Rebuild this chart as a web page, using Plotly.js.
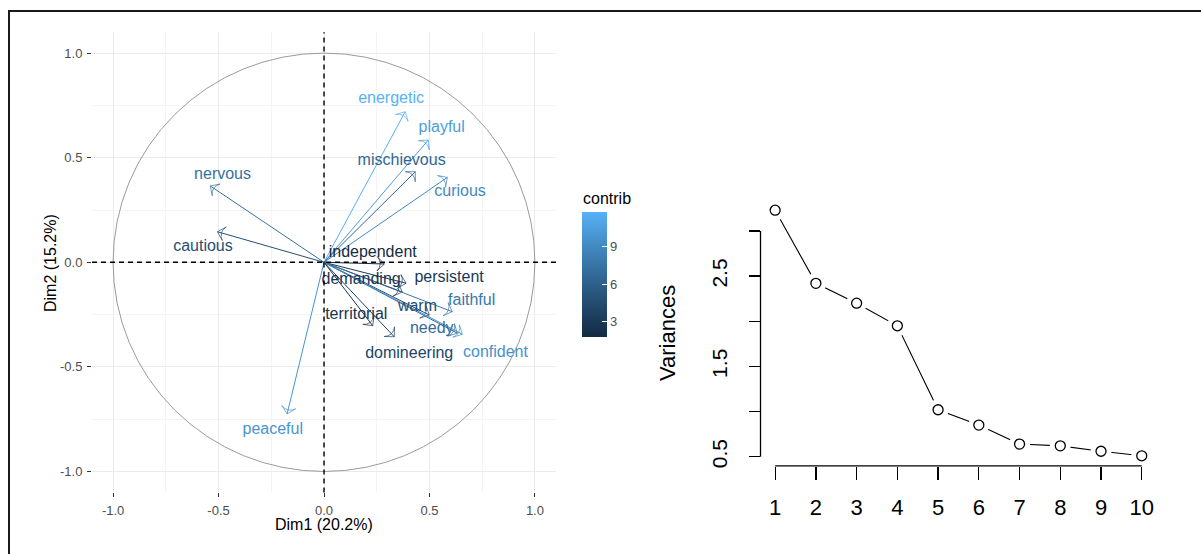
<!DOCTYPE html>
<html>
<head>
<meta charset="utf-8">
<script src="https://cdn.plot.ly/plotly-3.0.1.min.js"></script>
<style>
html,body{margin:0;padding:0;background:#fff;}
#chart{position:absolute;left:0;top:0;width:1201px;height:554px;}
#frame{position:absolute;left:8px;top:10px;width:1193px;height:544px;border-top:2px solid #1a1a1a;border-left:2px solid #1a1a1a;pointer-events:none;box-sizing:border-box;}
</style>
</head>
<body>
<div id="chart"></div>
<div id="frame"></div>
<script>
// ---------- data ----------
const variables = ["energetic","playful","mischievous","curious","nervous","cautious",
  "independent","persistent","demanding","faithful","warm","needy","confident",
  "territorial","domineering","peaceful"];
const dim1 = [0.385, 0.495, 0.433, 0.585, -0.539, -0.505,
  0.286, 0.389, 0.371, 0.608, 0.499, 0.632, 0.656,
  0.231, 0.333, -0.175];
const dim2 = [0.720, 0.585, 0.433, 0.406, 0.365, 0.146,
  -0.008, -0.100, -0.142, -0.236, -0.252, -0.339, -0.344,
  -0.303, -0.356, -0.725];
const labelDim1 = [0.318, 0.558, 0.368, 0.645, -0.481, -0.574,
  0.231, 0.593, 0.176, 0.700, 0.443, 0.511, 0.813,
  0.153, 0.404, -0.243];
const labelDim2 = [0.779, 0.640, 0.486, 0.335, 0.417, 0.072,
  0.043, -0.074, -0.085, -0.184, -0.212, -0.320, -0.435,
  -0.252, -0.440, -0.802];
const contrib = [11.8, 10.4, 6.6, 9.0, 7.3, 4.7,
  1.8, 3.0, 2.6, 7.8, 4.6, 6.8, 9.6,
  2.6, 4.0, 9.8];
const contribTicks = [3, 6, 9];
const axisTicks = [-1, -0.5, 0, 0.5, 1];
const axisTickText = ["-1.0", "-0.5", "0.0", "0.5", "1.0"];
const circleRadius = 1;

const components = [1, 2, 3, 4, 5, 6, 7, 8, 9, 10];
const variances = [3.23, 2.42, 2.20, 1.95, 1.02, 0.85, 0.64, 0.62, 0.56, 0.51];
const screeYTicks = [0.5, 1.0, 1.5, 2.0, 2.5, 3.0];
const screeYTickText = ["0.5", "", "1.5", "", "2.5", ""];

// ---------- helpers ----------
const W = 1201, H = 554;
const px = v => v / W;
const py = v => 1 - v / H;
const FONT = "Liberation Sans, Arial, sans-serif";

// ggplot-like gradient (#132B43 -> #56B1F7) interpolated in CIELAB
function hexToRgb(h){return [1,3,5].map(i=>parseInt(h.substr(i,2),16)/255);}
function toLin(c){return c<=0.04045?c/12.92:Math.pow((c+0.055)/1.055,2.4);}
function fromLin(c){return c<=0.0031308?12.92*c:1.055*Math.pow(c,1/2.4)-0.055;}
function rgbToLab(rgb){
  const [r,g,b]=rgb.map(toLin);
  let X=(0.4124*r+0.3576*g+0.1805*b)/0.95047;
  let Y=(0.2126*r+0.7152*g+0.0722*b);
  let Z=(0.0193*r+0.1192*g+0.9505*b)/1.08883;
  const f=t=>t>0.008856?Math.cbrt(t):7.787*t+16/116;
  const fx=f(X),fy=f(Y),fz=f(Z);
  return [116*fy-16,500*(fx-fy),200*(fy-fz)];
}
function labToRgb(lab){
  const [L,a,b]=lab;
  const fy=(L+16)/116, fx=fy+a/500, fz=fy-b/200;
  const fi=t=>{const t3=t*t*t;return t3>0.008856?t3:(t-16/116)/7.787;};
  const X=fi(fx)*0.95047, Y=fi(fy), Z=fi(fz)*1.08883;
  let r= 3.2406*X-1.5372*Y-0.4986*Z;
  let g=-0.9689*X+1.8758*Y+0.0415*Z;
  let bb=0.0557*X-0.2040*Y+1.0570*Z;
  return [r,g,bb].map(c=>Math.round(Math.min(1,Math.max(0,fromLin(c)))*255));
}
const LOW = rgbToLab(hexToRgb("#132B43")), HIGH = rgbToLab(hexToRgb("#56B1F7"));
function gradient(t){
  const lab = LOW.map((v,i)=>v+(HIGH[i]-v)*t);
  const c = labToRgb(lab);
  return "rgb("+c.join(",")+")";
}
const cMin = Math.min(...contrib), cMax = Math.max(...contrib);
const colorOf = v => gradient((v - cMin) / (cMax - cMin));
const colorscale = [];
for (let i = 0; i <= 20; i++) colorscale.push([i/20, gradient(i/20)]);

// ---------- traces ----------
const traces = [];
variables.forEach((name, i) => {
  const col = colorOf(contrib[i]);
  traces.push({
    type: "scatter", mode: "lines+markers", xaxis: "x", yaxis: "y",
    x: [0, dim1[i]], y: [0, dim2[i]],
    line: {color: col, width: 1},
    marker: {symbol: "arrow-wide-open", angleref: "previous", size: [0, 10],
             color: col, line: {color: col, width: 1}},
    hoverinfo: "skip", showlegend: false, cliponaxis: false
  });
});
traces.push({
  type: "scatter", mode: "text", xaxis: "x", yaxis: "y",
  x: labelDim1, y: labelDim2, text: variables,
  textposition: "middle center",
  textfont: {family: FONT, size: 16, color: contrib.map(colorOf)},
  hoverinfo: "skip", showlegend: false, cliponaxis: false
});
traces.push({
  type: "scatter", mode: "markers", xaxis: "x", yaxis: "y",
  x: dim1, y: dim2,
  marker: {size: 1, opacity: 0, color: contrib, colorscale: colorscale,
    cmin: cMin, cmax: cMax, showscale: true,
    colorbar: {
      x: px(581.7), xanchor: "left", xpad: 0,
      y: py(211.7), yanchor: "top", ypad: 0,
      len: 125, lenmode: "pixels", thickness: 25, thicknessmode: "pixels",
      outlinewidth: 0, tickvals: contribTicks, ticks: "inside", ticklen: 5,
      tickcolor: "#ffffff", tickwidth: 1,
      tickfont: {family: FONT, size: 13, color: "#4D4D4D"}
    }},
  hoverinfo: "skip", showlegend: false
});
// scree plot
traces.push({
  type: "scatter", mode: "lines", xaxis: "x2", yaxis: "y2",
  x: components, y: variances, line: {color: "#000", width: 1.1},
  hoverinfo: "skip", showlegend: false
});
traces.push({
  type: "scatter", mode: "markers", xaxis: "x2", yaxis: "y2",
  x: components, y: variances,
  marker: {symbol: "circle", size: 21, color: "#ffffff", line: {width: 0}},
  hoverinfo: "skip", showlegend: false
});
traces.push({
  type: "scatter", mode: "markers", xaxis: "x2", yaxis: "y2",
  x: components, y: variances,
  marker: {symbol: "circle-open", size: 10, color: "#000", line: {color: "#000", width: 1.3}},
  hoverinfo: "skip", showlegend: false
});

// ---------- layout ----------
const pcaAxis = {
  range: [-1.1, 1.1], tickvals: axisTicks, ticktext: axisTickText,
  showgrid: true, gridcolor: "#EBEBEB", gridwidth: 1,
  minor: {dtick: 0.25, showgrid: true, gridcolor: "#F1F1F1", gridwidth: 0.8, ticks: ""},
  zeroline: false, showline: false,
  ticks: "outside", ticklen: 4, tickwidth: 1, tickcolor: "#333333",
  tickfont: {family: FONT, size: 13, color: "#4D4D4D"},
  ticklabelstandoff: 2, fixedrange: true
};
const layout = {
  width: W, height: H, margin: {l: 0, r: 0, t: 0, b: 0},
  paper_bgcolor: "#ffffff", plot_bgcolor: "#ffffff", showlegend: false,
  font: {family: FONT},
  xaxis: Object.assign({}, pcaAxis, {domain: [px(92), px(556)], anchor: "y"}),
  yaxis: Object.assign({}, pcaAxis, {domain: [py(492.4), py(32.2)], anchor: "x"}),
  xaxis2: {
    domain: [px(760.5), px(1156.4)], anchor: "y2", range: [0.64, 10.36],
    tickvals: components, showgrid: false, zeroline: false, showline: false,
    ticks: "outside", ticklen: 13, tickwidth: 1.3, tickcolor: "#000",
    tickfont: {family: FONT, size: 22, color: "#000"}, ticklabelstandoff: 9, fixedrange: true
  },
  yaxis2: {
    domain: [py(465.9), py(200.1)], anchor: "x2", range: [0.398, 3.342],
    tickvals: screeYTicks, ticktext: screeYTickText, tickangle: -90,
    showgrid: false, zeroline: false, showline: false,
    ticks: "outside", ticklen: 11, tickwidth: 1.3, tickcolor: "#000",
    tickfont: {family: FONT, size: 21, color: "#000"}, ticklabelstandoff: 13, fixedrange: true
  },
  shapes: [
    {type: "circle", xref: "x", yref: "y", x0: -circleRadius, y0: -circleRadius,
     x1: circleRadius, y1: circleRadius, line: {color: "#9A9A9A", width: 1}},
    {type: "line", xref: "x domain", yref: "y", x0: 0, x1: 1, y0: 0, y1: 0,
     line: {color: "#000", width: 1.4, dash: "5px,4px"}},
    {type: "line", xref: "x", yref: "y domain", x0: 0, x1: 0, y0: 0, y1: 1,
     line: {color: "#000", width: 1.4, dash: "5px,4px"}},
    {type: "line", xref: "x2 domain", yref: "y2", x0: 0, x1: 0,
     y0: screeYTicks[0], y1: screeYTicks[screeYTicks.length-1],
     line: {color: "#000", width: 1.3}},
    {type: "line", xref: "x2", yref: "y2 domain", y0: 0, y1: 0,
     x0: components[0], x1: components[components.length-1],
     line: {color: "#000", width: 1.3}}
  ],
  annotations: [
    {text: "Dim1 (20.2%)", xref: "paper", yref: "paper", x: px(324.3), y: py(524.3),
     xanchor: "center", yanchor: "middle", showarrow: false, font: {family: FONT, size: 16, color: "#000"}},
    {text: "Dim2 (15.2%)", xref: "paper", yref: "paper", x: px(50), y: py(263),
     xanchor: "center", yanchor: "middle", textangle: -90, showarrow: false, font: {family: FONT, size: 16, color: "#000"}},
    {text: "contrib", xref: "paper", yref: "paper", x: px(581), y: py(198.3),
     xanchor: "left", yanchor: "middle", showarrow: false, font: {family: FONT, size: 16, color: "#000"}},
    {text: "Variances", xref: "paper", yref: "paper", x: px(667), y: py(333),
     xanchor: "center", yanchor: "middle", textangle: -90, showarrow: false, font: {family: FONT, size: 22, color: "#000"}}
  ]
};

Plotly.newPlot("chart", traces, layout, {staticPlot: true, displayModeBar: false});
</script>
</body>
</html>
